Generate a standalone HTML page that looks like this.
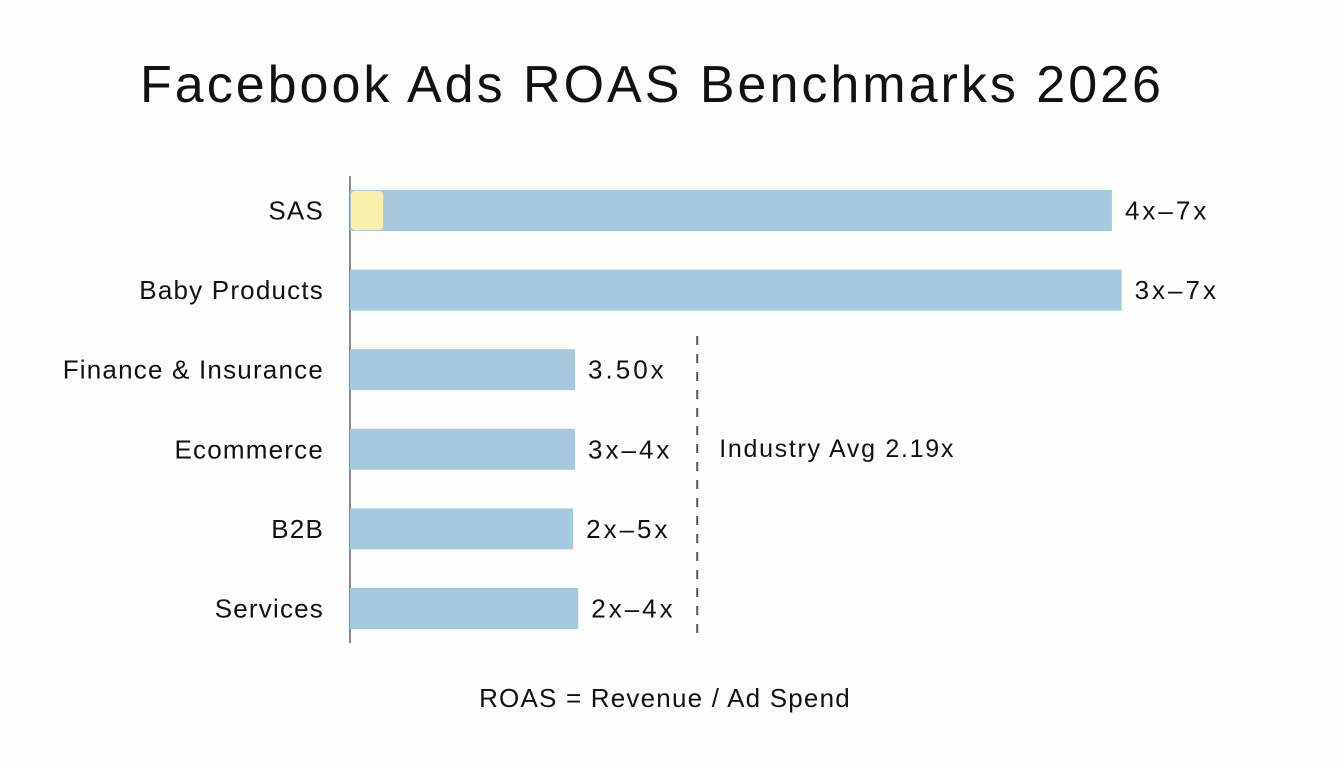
<!DOCTYPE html>
<html><head><meta charset="utf-8"><style>
html,body{margin:0;padding:0;background:#fdfdfd;}
svg{display:block;font-family:"Liberation Sans","DejaVu Sans",sans-serif;}
</style></head><body>
<svg id="chart" width="1344" height="768" viewBox="0 0 1344 768">
<text x="652" y="102" text-anchor="middle" font-size="52" letter-spacing="3" fill="#111">Facebook Ads ROAS Benchmarks 2026</text>
<line x1="350" y1="176" x2="350" y2="643" stroke="#888" stroke-width="2"/>
<g id="bars"></g>
<text x="665" y="707" text-anchor="middle" font-size="26" letter-spacing="1.2" fill="#111">ROAS = Revenue / Ad Spend</text>
</svg>
<script>
const categories = ["SAS","Baby Products","Finance & Insurance","Ecommerce","B2B","Services"];
const values = [11.85, 12.0, 3.5, 3.5, 3.47, 3.55];
const valueLabels = ["4x–7x","3x–7x","3.50x","3x–4x","2x–5x","2x–4x"];
const highlightValue = 0.5;
const avgPosition = 5.4;
const avgLabel = "Industry Avg 2.19x";

const NS = "http://www.w3.org/2000/svg";
const g = document.getElementById("bars");
const x0 = 350, k = 64.3;
const xs = v => x0 + v * k;
const y0 = 190, step = 79.6, bh = 41;
const ys = i => y0 + i * step;

function mk(tag, attrs, text) {
  const el = document.createElementNS(NS, tag);
  for (const a in attrs) el.setAttribute(a, attrs[a]);
  if (text !== undefined) el.textContent = text;
  g.appendChild(el);
  return el;
}

categories.forEach((c, i) => {
  const y = ys(i);
  const lab = mk("text", {x: 324, y: y + bh/2 + 9, "text-anchor": "end", "font-size": 26, "letter-spacing": 1.2, fill: "#111"}, c);
  
  
  const r = mk("rect", {x: x0, y: y, width: xs(values[i]) - x0, height: bh, fill: "#a6c9df"});
  
  
  if (i === 0) {
    const h = mk("rect", {x: x0 + 1, y: y + 1, width: xs(highlightValue) - x0, height: bh - 2, rx: 4, fill: "#fbefac"});
    
    
  }
  const vl = mk("text", {x: xs(values[i]) + 13, y: y + bh/2 + 9, "font-size": 26, "letter-spacing": 3, fill: "#111"}, valueLabels[i]);
  
  
});

const ax = xs(avgPosition);
const al = mk("line", {x1: ax, y1: 336, x2: ax, y2: 640, stroke: "#555", "stroke-width": 2, "stroke-dasharray": "9,9"});


const at = mk("text", {x: ax + 22, y: 457, "font-size": 25, "letter-spacing": 1.7, fill: "#111"}, avgLabel);


</script>
</body></html>
